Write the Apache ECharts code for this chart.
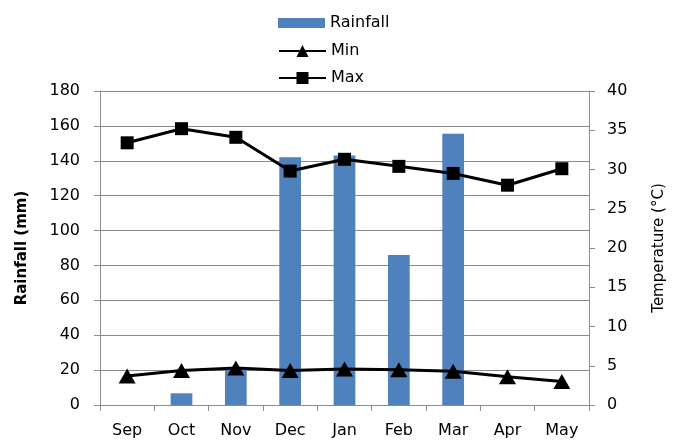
<!DOCTYPE html>
<html>
<head>
<meta charset="utf-8">
<script src="https://cdn.jsdelivr.net/npm/echarts@6/dist/echarts.min.js"></script>
<style>html,body{margin:0;padding:0;background:#fff}#c{width:675px;height:442px}</style>
</head>
<body>
<div id="c"></div>
<script>
const months = ['Sep','Oct','Nov','Dec','Jan','Feb','Mar','Apr','May'];
const rainfall = [0, 6.7, 21, 142, 143, 86, 155.5, 0, 0];
const tMin = [3.7, 4.4, 4.7, 4.4, 4.6, 4.5, 4.3, 3.6, 3.0];
const tMax = [33.4, 35.2, 34.1, 29.8, 31.3, 30.4, 29.5, 28.0, 30.1];
const rainTicks = {min: 0, max: 180, interval: 20};
const tempTicks = {min: 0, max: 40, interval: 5};

const FONT = 'DejaVu Sans';
const axisGray = '#8c8c8c';
const chart = echarts.init(document.getElementById('c'), null, {renderer: 'canvas'});
chart.setOption({
  animation: false,
  textStyle: {fontFamily: FONT},
  legend: [
    {data: [{name: 'Rainfall', icon: 'rect'}], left: 273, top: 10, itemWidth: 47, itemHeight: 10, itemGap: 5,
     textStyle: {fontFamily: FONT, fontSize: 16, color: '#000'}},
    {data: ['Min', 'Max'], orient: 'vertical', left: 273, top: 38, itemWidth: 47, itemHeight: 15, itemGap: 11,
     textStyle: {fontFamily: FONT, fontSize: 16, color: '#000'}}
  ],
  grid: {left: 100, right: 83, top: 91, bottom: 37},
  xAxis: {
    type: 'category', data: months, boundaryGap: true,
    axisLine: {lineStyle: {color: axisGray, width: 1}},
    axisTick: {show: true, length: 6, lineStyle: {color: axisGray}},
    axisLabel: {fontFamily: FONT, fontSize: 16, color: '#000', margin: 18}
  },
  yAxis: [
    {type: 'value', min: rainTicks.min, max: rainTicks.max, interval: rainTicks.interval,
     name: 'Rainfall (mm)', nameLocation: 'middle', nameRotate: 90, nameGap: 70,
     nameTextStyle: {fontFamily: FONT, fontSize: 15, fontWeight: 'bold', color: '#000'},
     axisLine: {show: true, lineStyle: {color: axisGray}},
     axisTick: {show: true, length: 6, lineStyle: {color: axisGray}},
     axisLabel: {fontFamily: FONT, fontSize: 16, color: '#000', margin: 20},
     splitLine: {show: true, lineStyle: {color: '#8a8a8a', width: 1}}},
    {type: 'value', position: 'right', min: tempTicks.min, max: tempTicks.max, interval: tempTicks.interval,
     name: 'Temperature (°C)', nameLocation: 'middle', nameRotate: 90, nameGap: 63,
     nameTextStyle: {fontFamily: FONT, fontSize: 15, color: '#000'},
     axisLine: {show: true, lineStyle: {color: axisGray}},
     axisTick: {show: true, length: 6, lineStyle: {color: axisGray}},
     axisLabel: {fontFamily: FONT, fontSize: 16, color: '#000', margin: 18},
     splitLine: {show: false}}
  ],
  series: [
    {name: 'Rainfall', type: 'bar', yAxisIndex: 0, data: rainfall, barWidth: '40%',
     itemStyle: {color: '#4F81BD'}},
    {name: 'Min', type: 'line', yAxisIndex: 1, data: tMin, symbol: 'triangle', symbolSize: [17, 15],
     lineStyle: {color: '#000', width: 3}, itemStyle: {color: '#000'}},
    {name: 'Max', type: 'line', yAxisIndex: 1, data: tMax, symbol: 'rect', symbolSize: 13,
     lineStyle: {color: '#000', width: 3}, itemStyle: {color: '#000'}}
  ]
});
</script>
</body>
</html>
